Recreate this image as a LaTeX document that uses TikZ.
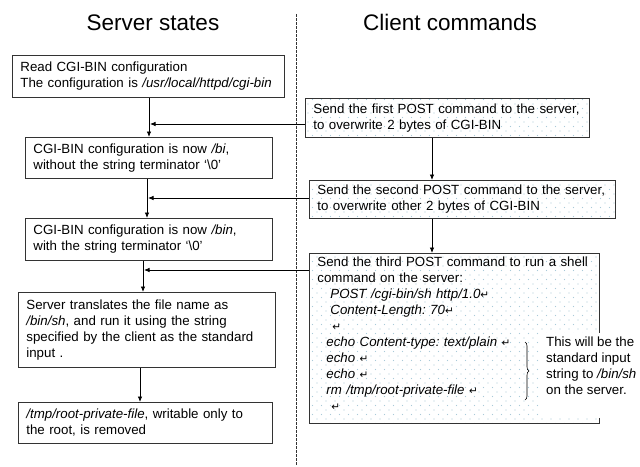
\documentclass[tikz,border=0pt]{standalone}
\usepackage{fontspec}
\setmainfont{Liberation Sans}
\newfontfamily\symfont{DejaVu Sans}
\usetikzlibrary{arrows.meta,patterns,decorations.pathreplacing}
\definecolor{dotblue}{HTML}{A9CAD8}
\definecolor{boxline}{HTML}{333333}
\pgfdeclarepatternformonly{bluedots}{\pgfqpoint{-1pt}{-1pt}}{\pgfqpoint{10pt}{10pt}}{\pgfqpoint{9pt}{9pt}}{%
 \pgfpathcircle{\pgfqpoint{2pt}{2pt}}{0.55pt}%
 \pgfpathcircle{\pgfqpoint{6.5pt}{6.5pt}}{0.55pt}%
 \pgfusepath{fill}}
\newcommand\ret{{\symfont\fontsize{10.5}{10.5}\selectfont ↵}}
\frenchspacing
\begin{document}
\begin{tikzpicture}[x=1pt,y=-1pt,
  font=\fontsize{13.3}{16}\selectfont,
  lbox/.style={draw=boxline, anchor=north west, align=left, inner xsep=8pt, inner ysep=2pt, line width=0.8pt},
  cbox/.style={lbox, pattern=bluedots, pattern color=dotblue},
  arr/.style={-{Latex[length=5.5pt,width=4.5pt]}, line width=0.8pt},
  title/.style={font=\fontsize{22.5}{26}\selectfont, anchor=base}]
\useasboundingbox (0,0) rectangle (640,466);
\fill[white] (0,0) rectangle (640,466);
% titles and separator
\node[title] (t1) at (153,30) {Server states};
\node[title] (t2) at (450,30) {Client commands};
\draw[dashed, dash pattern=on 2.5pt off 1.5pt, line width=0.6pt, black!80] (296,14) -- (296,466);
% server states
\node[lbox, text width=256pt, minimum height=42pt] (A) at (12,55) {Read CGI-BIN configuration\\The configuration is \textit{/usr/local/httpd/cgi-bin}};
\node[lbox, text width=231pt, minimum height=41pt] (B) at (25,137) {CGI-BIN configuration is now \textit{/bi},\\without the string terminator ‘\textbackslash 0’};
\node[lbox, text width=231pt, minimum height=42pt] (C) at (25,218) {CGI-BIN configuration is now \textit{/bin},\\with the string terminator ‘\textbackslash 0’};
\node[lbox, text width=241pt, minimum height=75pt] (D) at (18,292) {Server translates the file name as\\\textit{/bin/sh}, and run it using the string\\specified by the client as the standard\\input .};
\node[lbox, text width=238pt, minimum height=41pt] (E) at (18,402) {\textit{/tmp/root-private-file}, writable only to\\the root, is removed};
% client commands
\node[cbox, text width=268pt, minimum height=39pt] (C1) at (305,98) {Send the first POST command to the server,\\to overwrite 2 bytes of CGI-BIN};
\node[cbox, text width=290pt, minimum height=38pt] (C2) at (309,180) {Send the second POST command to the server,\\to overwrite other 2 bytes of CGI-BIN};
\node[cbox, text width=274pt, minimum height=170pt] (C3) at (309,253) {Send the third POST command to run a shell\\command on the server:\\
\hspace*{13pt}\textit{POST /cgi-bin/sh http/1.0}\ret\\
\hspace*{13pt}\textit{Content-Length: 70}\ret\\
\hspace*{15pt}\ret\\
\hspace*{9pt}\textit{echo Content-type: text/plain} \ret\\
\hspace*{9pt}\textit{echo} \ret\\
\hspace*{9pt}\textit{echo} \ret\\
\hspace*{9pt}\textit{rm /tmp/root-private-file} \ret\\
\hspace*{14pt}\ret\rule[-10pt]{0pt}{0pt}};
\fill[white] (541,333) rectangle (638,418);
\node[anchor=north west, align=left, inner sep=0pt] (S) at (546,336.4) {This will be the\\standard input\\string to \textit{/bin/sh}\\on the server.};
\draw[decorate, decoration={brace, amplitude=4pt}, line width=0.6pt] (525,342) -- (525,400);
% connectors
\coordinate (xa) at (149,0);
\coordinate (xb) at (147,0);
\coordinate (xc) at (143,0);
\coordinate (xd) at (140,0);
\coordinate (xr) at (432,0);
\coordinate (y1) at (150,124);
\coordinate (y2) at (148,198);
\coordinate (y3) at (144,270);
\draw[arr] (A.south -| xa) -- (B.north -| xa);
\draw[arr] (B.south -| xb) -- (C.north -| xb);
\draw[arr] (C.south -| xc) -- (D.north -| xc);
\draw[arr] (D.south -| xd) -- (E.north -| xd);
\draw[arr] (C1.south -| xr) -- (C2.north -| xr);
\draw[arr] (C2.south -| xr) -- (C3.north -| xr);
\draw[arr] (C1.west |- y1) -- (y1);
\draw[arr] (C2.west |- y2) -- (y2);
\draw[arr] (C3.west |- y3) -- (y3);
\end{tikzpicture}
\end{document}
